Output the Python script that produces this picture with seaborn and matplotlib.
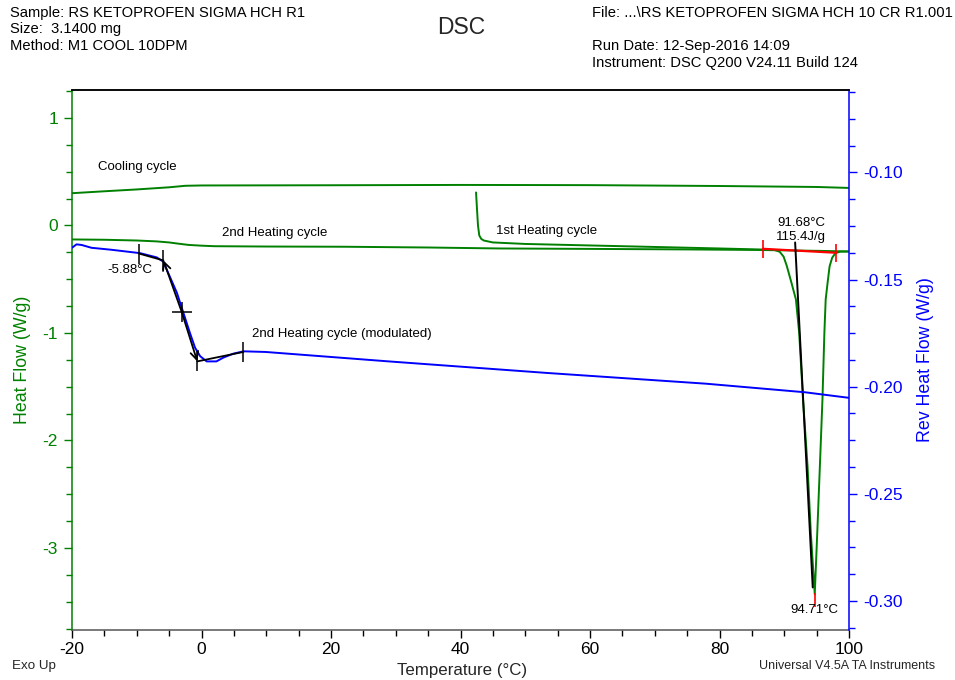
import numpy as np
import pandas as pd
import matplotlib
matplotlib.use("Agg")
import matplotlib.pyplot as plt
from matplotlib.ticker import MultipleLocator, FormatStrFormatter
import seaborn as sns

# ---- data -------------------------------------------------------------
cool_T = [-20, -15, -10, -5, -2.5, 0, 20, 40, 60, 80, 95, 100]
cool_HF = [0.300, 0.318, 0.335, 0.355, 0.369, 0.372, 0.374, 0.377, 0.375, 0.367, 0.358, 0.349]

heat2_T = [-20, -15, -10, -7, -5, -3.5, -2, 0, 2, 10, 22, 35, 46, 60, 75, 86, 95, 100]
heat2_HF = [-0.130, -0.133, -0.140, -0.148, -0.158, -0.170, -0.181, -0.188, -0.193,
            -0.196, -0.198, -0.205, -0.214, -0.218, -0.223, -0.228, -0.236, -0.242]

heat1_T = [42.4, 42.55, 42.7, 42.9, 43.2, 43.6, 45, 50, 60, 70, 80, 86, 88.5, 89.3,
           89.9, 90.4, 91.1, 91.8, 92.3, 92.9, 93.6, 94.1, 94.71, 95.1, 95.5, 95.9,
           96.2, 96.4, 96.7, 97.0, 97.4, 97.9, 98.6, 100]
heat1_HF = [0.307, 0.150, 0.000, -0.093, -0.125, -0.140, -0.158, -0.172, -0.186,
            -0.200, -0.214, -0.223, -0.228, -0.245, -0.290, -0.378, -0.530, -0.688,
            -0.995, -1.619, -2.242, -2.856, -3.430, -2.856, -2.242, -1.619, -0.995,
            -0.688, -0.530, -0.381, -0.300, -0.258, -0.244, -0.242]

rev_T = [-20, -19.3, -18.5, -17, -14, -9.5, -6.9, -5.9, -4.9, -3.8, -2.8, -1.8, -1.0,
         -0.2, 0.8, 2.3, 3.4, 4.9, 6.5, 9.9, 28.9, 53.4, 77.9, 93.2, 100]
rev_HF = [-0.1352, -0.1336, -0.1339, -0.1352, -0.1361, -0.1377, -0.1397, -0.1417,
          -0.1486, -0.1562, -0.1655, -0.1748, -0.1818, -0.1858, -0.1882, -0.1882,
          -0.1864, -0.1846, -0.1835, -0.1838, -0.1882, -0.1936, -0.1986, -0.2026,
          -0.2052]

# glass transition construction on the reversing signal
tg_T = [-9.65, -5.88, -3.06, -0.65, 6.46]
tg_HF = [-0.1379, -0.1411, -0.1651, -0.1882, -0.1838]
tg_onset = -5.88

# melting analysis on the first heating
melt_base_T = [86.7, 98.0]
melt_base_HF = [-0.217, -0.254]
melt_onset_T = 91.68
melt_onset_line_T = [91.68, 94.40]
melt_onset_line_HF = [-0.158, -3.367]
melt_peak_T = 94.71
melt_peak_HF = -3.430
melt_enthalpy = 115.4

GREEN = "#008000"
BLUE = "#0000FF"
RED = "#FF0000"

# ---- style ------------------------------------------------------------
sns.set_theme(style="white")
plt.rcParams["font.family"] = ["Liberation Sans", "DejaVu Sans"]
plt.rcParams["axes.unicode_minus"] = False

W, H = 955, 680
fig = plt.figure(figsize=(W / 100, H / 100), dpi=100)
ax = fig.add_axes([72 / W, 1 - 630 / H, (849 - 72) / W, (630 - 90) / H])
ax2 = ax.twinx()

def fx(px):
    return px / W

def fy(py):
    return 1 - py / H

# ---- curves -----------------------------------------------------------
df_cool = pd.DataFrame({"T": cool_T, "HF": cool_HF})
df_h2 = pd.DataFrame({"T": heat2_T, "HF": heat2_HF})
df_h1 = pd.DataFrame({"T": heat1_T, "HF": heat1_HF})
df_rev = pd.DataFrame({"T": rev_T, "HF": rev_HF})

for d in (df_cool, df_h2, df_h1):
    sns.lineplot(data=d, x="T", y="HF", ax=ax, color=GREEN, lw=1.4,
                 sort=False, estimator=None)
sns.lineplot(data=df_rev, x="T", y="HF", ax=ax2, color=BLUE, lw=1.4,
             sort=False, estimator=None)

# melting peak analysis
ax.plot(melt_base_T, melt_base_HF, color=RED, lw=1.6)
ax.plot(melt_base_T, melt_base_HF, ls="none", marker="|", ms=13, mew=1.2, color=RED)
ax.plot([melt_peak_T], [melt_peak_HF - 0.05], ls="none", marker="|", ms=10,
        mew=1.2, color=RED)
ax.plot(melt_onset_line_T, melt_onset_line_HF, color="black", lw=1.4)

# glass transition analysis
ax2.plot(tg_T[:2], tg_HF[:2], color="black", lw=1.3)
ax2.plot(tg_T[3:], tg_HF[3:], color="black", lw=1.3)
for tip in (1, 3):
    ax2.annotate("", xy=(tg_T[tip], tg_HF[tip]), xytext=(tg_T[2], tg_HF[2]),
                 arrowprops=dict(arrowstyle="->", color="black", lw=1.3,
                                 shrinkA=0, shrinkB=0, mutation_scale=14))
ax2.plot([tg_T[i] for i in (0, 1, 3, 4)], [tg_HF[i] for i in (0, 1, 3, 4)],
         ls="none", marker="|", ms=14, mew=1.1, color="black")
ax2.plot([tg_T[2]], [tg_HF[2]], ls="none", marker="+", ms=15, mew=1.1, color="black")

# ---- axes -------------------------------------------------------------
ax.set_xlim(-20, 100)
ax.set_ylim(-3.763, 1.26)
ax2.set_ylim(-0.3135, -0.0616)

ax.xaxis.set_major_locator(MultipleLocator(20))
ax.xaxis.set_minor_locator(MultipleLocator(5))
ax.yaxis.set_major_locator(MultipleLocator(1))
ax.yaxis.set_minor_locator(MultipleLocator(0.25))
ax.yaxis.set_major_formatter(FormatStrFormatter("%d"))
ax2.yaxis.set_major_locator(MultipleLocator(0.05))
ax2.yaxis.set_minor_locator(MultipleLocator(0.0125))
ax2.yaxis.set_major_formatter(FormatStrFormatter("%.2f"))

TICK_FS = 12.5
ax.tick_params(axis="x", which="both", direction="out", bottom=True, colors="black",
               labelsize=TICK_FS, pad=3)
ax.tick_params(axis="x", which="major", length=6, width=1)
ax.tick_params(axis="x", which="minor", length=4, width=1)
ax.tick_params(axis="y", which="both", direction="out", left=True, colors=GREEN,
               labelsize=TICK_FS, pad=4)
ax.tick_params(axis="y", which="major", length=6, width=1)
ax.tick_params(axis="y", which="minor", length=4, width=1)
ax2.tick_params(axis="y", which="both", direction="out", right=True, colors=BLUE,
                labelsize=TICK_FS, pad=4)
ax2.tick_params(axis="y", which="major", length=6, width=1)
ax2.tick_params(axis="y", which="minor", length=4, width=1)

for a in (ax, ax2):
    for s in a.spines.values():
        s.set_linewidth(1.1)
ax.spines["left"].set_color(GREEN)
ax.spines["right"].set_visible(False)
ax.spines["top"].set_color("black")
ax.spines["bottom"].set_color("#555555")
ax2.spines["right"].set_color(BLUE)
ax2.spines["left"].set_visible(False)
ax2.spines["top"].set_color("black")
ax2.spines["bottom"].set_visible(False)

ax.set_xlabel("")
ax.set_ylabel("Heat Flow (W/g)", color=GREEN, fontsize=12.8)
ax.yaxis.set_label_coords((31 - 72) / 777, 0.5)
ax2.set_ylabel("Rev Heat Flow (W/g)", color=BLUE, fontsize=12.8)
ax2.yaxis.set_label_coords((917 - 72) / 777, 0.5)

# ---- curve labels -----------------------------------------------------
lab = dict(fontsize=9.5, color="black")
ax.text(-16.0, 0.54, "Cooling cycle", ha="left", va="center", **lab)
ax.text(3.2, -0.074, "2nd Heating cycle", ha="left", va="center", **lab)
ax.text(45.5, -0.047, "1st Heating cycle", ha="left", va="center", **lab)
ax.text(7.8, -1.014, "2nd Heating cycle (modulated)", ha="left", va="center", **lab)
ax.text(-11.0, -0.41, f"{tg_onset:.2f}°C", ha="center", va="center", **lab)
ax.text(92.6, 0.02, f"{melt_onset_T:.2f}°C", ha="center", va="center", **lab)
ax.text(92.6, -0.11, f"{melt_enthalpy:.1f}J/g", ha="center", va="center", **lab)
ax.text(94.6, -3.58, f"{melt_peak_T:.2f}°C", ha="center", va="center", **lab)

# ---- header / footer --------------------------------------------------
hdr = dict(fontsize=10.6, color="black", va="center")
fig.text(fx(10), fy(13), "Sample: RS KETOPROFEN SIGMA HCH R1", ha="left", **hdr)
fig.text(fx(10), fy(29.5), "Size:  3.1400 mg", ha="left", **hdr)
fig.text(fx(10), fy(46), "Method: M1 COOL 10DPM", ha="left", **hdr)
fig.text(fx(461), fy(27), "DSC", ha="center", va="center", fontsize=16.5)
fig.text(fx(592), fy(13), "File: ...\\RS KETOPROFEN SIGMA HCH 10 CR R1.001", ha="left", **hdr)
fig.text(fx(592), fy(46), "Run Date: 12-Sep-2016 14:09", ha="left", **hdr)
fig.text(fx(592), fy(62.5), "Instrument: DSC Q200 V24.11 Build 124", ha="left", **hdr)

fig.text(fx(12), fy(666), "Exo Up", ha="left", va="center", fontsize=9.6)
fig.text(fx(462), fy(670), "Temperature (°C)", ha="center", va="center", fontsize=12.2)
fig.text(fx(935), fy(666), "Universal V4.5A TA Instruments", ha="right", va="center",
         fontsize=9.0)

fig.savefig("out.png", dpi=100, facecolor="white")
